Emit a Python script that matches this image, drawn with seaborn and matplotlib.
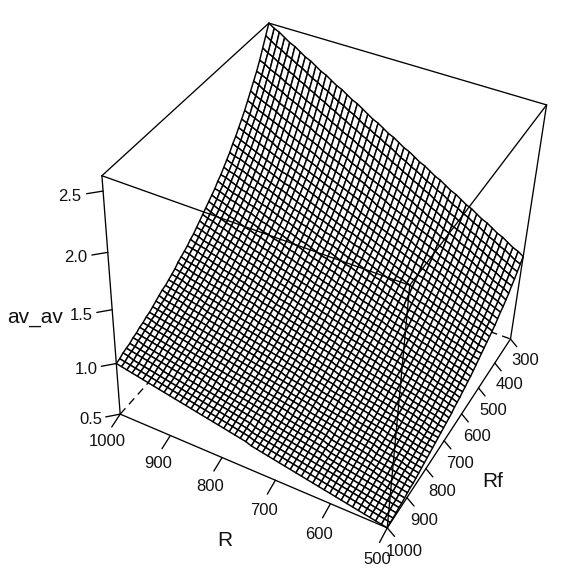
import numpy as np
import pandas as pd
import seaborn as sns
import matplotlib
matplotlib.use('Agg')
import matplotlib.pyplot as plt
from matplotlib.collections import PolyCollection

r_vals = [500, 510.2, 520.4, 530.6, 540.8, 551.0, 561.2, 571.4, 581.6, 591.8, 602.0, 612.2, 622.4, 632.7, 642.9, 653.1, 663.3,
          673.5, 683.7, 693.9, 704.1, 714.3, 724.5, 734.7, 744.9, 755.1, 765.3, 775.5, 785.7, 795.9, 806.1, 816.3, 826.5,
          836.7, 846.9, 857.1, 867.3, 877.6, 887.8, 898.0, 908.2, 918.4, 928.6, 938.8, 949.0, 959.2, 969.4, 979.6, 989.8, 1000]
rf_vals = [300, 314.3, 328.6, 342.9, 357.1, 371.4, 385.7, 400, 414.3, 428.6, 442.9, 457.1, 471.4, 485.7, 500, 514.3, 528.6,
           542.9, 557.1, 571.4, 585.7, 600, 614.3, 628.6, 642.9, 657.1, 671.4, 685.7, 700, 714.3, 728.6, 742.9, 757.1,
           771.4, 785.7, 800, 814.3, 828.6, 842.9, 857.1, 871.4, 885.7, 900, 914.3, 928.6, 942.9, 957.1, 971.4, 985.7, 1000]
# rows follow rf_vals, columns follow r_vals
gain = [
    [1.31,1.34,1.36,1.39,1.42,1.44,1.47,1.50,1.52,1.55,1.58,1.60,1.63,1.66,1.68,1.71,1.74,1.76,1.79,1.82,1.84,1.87,1.90,1.92,1.95,1.98,2.00,2.03,2.06,2.08,2.11,2.14,2.17,2.19,2.22,2.25,2.27,2.30,2.33,2.35,2.38,2.41,2.43,2.46,2.49,2.51,2.54,2.57,2.59,2.62],
    [1.27,1.29,1.32,1.35,1.37,1.40,1.42,1.45,1.48,1.50,1.53,1.55,1.58,1.60,1.63,1.66,1.68,1.71,1.73,1.76,1.79,1.81,1.84,1.86,1.89,1.92,1.94,1.97,1.99,2.02,2.04,2.07,2.10,2.12,2.15,2.17,2.20,2.23,2.25,2.28,2.30,2.33,2.36,2.38,2.41,2.43,2.46,2.48,2.51,2.54],
    [1.23,1.25,1.28,1.30,1.33,1.35,1.38,1.40,1.43,1.45,1.48,1.50,1.53,1.55,1.58,1.60,1.63,1.66,1.68,1.71,1.73,1.76,1.78,1.81,1.83,1.86,1.88,1.91,1.93,1.96,1.98,2.01,2.03,2.06,2.08,2.11,2.13,2.16,2.18,2.21,2.23,2.26,2.28,2.31,2.33,2.36,2.38,2.41,2.43,2.46],
    [1.19,1.22,1.24,1.27,1.29,1.31,1.34,1.36,1.39,1.41,1.44,1.46,1.48,1.51,1.53,1.56,1.58,1.61,1.63,1.65,1.68,1.70,1.73,1.75,1.78,1.80,1.82,1.85,1.87,1.90,1.92,1.95,1.97,1.99,2.02,2.04,2.07,2.09,2.12,2.14,2.16,2.19,2.21,2.24,2.26,2.29,2.31,2.33,2.36,2.38],
    [1.16,1.18,1.20,1.23,1.25,1.27,1.30,1.32,1.35,1.37,1.39,1.42,1.44,1.46,1.49,1.51,1.53,1.56,1.58,1.61,1.63,1.65,1.68,1.70,1.72,1.75,1.77,1.79,1.82,1.84,1.87,1.89,1.91,1.94,1.96,1.98,2.01,2.03,2.05,2.08,2.10,2.13,2.15,2.17,2.20,2.22,2.24,2.27,2.29,2.31],
    [1.12,1.15,1.17,1.19,1.22,1.24,1.26,1.29,1.31,1.33,1.35,1.38,1.40,1.42,1.45,1.47,1.49,1.51,1.54,1.56,1.58,1.61,1.63,1.65,1.68,1.70,1.72,1.74,1.77,1.79,1.81,1.84,1.86,1.88,1.90,1.93,1.95,1.97,2.00,2.02,2.04,2.07,2.09,2.11,2.13,2.16,2.18,2.20,2.23,2.25],
    [1.09,1.12,1.14,1.16,1.18,1.21,1.23,1.25,1.27,1.29,1.32,1.34,1.36,1.38,1.41,1.43,1.45,1.47,1.50,1.52,1.54,1.56,1.58,1.61,1.63,1.65,1.67,1.70,1.72,1.74,1.76,1.79,1.81,1.83,1.85,1.87,1.90,1.92,1.94,1.96,1.99,2.01,2.03,2.05,2.08,2.10,2.12,2.14,2.16,2.19],
    [1.06,1.09,1.11,1.13,1.15,1.17,1.19,1.22,1.24,1.26,1.28,1.30,1.32,1.35,1.37,1.39,1.41,1.43,1.45,1.48,1.50,1.52,1.54,1.56,1.58,1.61,1.63,1.65,1.67,1.69,1.72,1.74,1.76,1.78,1.80,1.82,1.85,1.87,1.89,1.91,1.93,1.95,1.98,2.00,2.02,2.04,2.06,2.08,2.11,2.13],
    [1.04,1.06,1.08,1.10,1.12,1.14,1.16,1.18,1.21,1.23,1.25,1.27,1.29,1.31,1.33,1.35,1.37,1.40,1.42,1.44,1.46,1.48,1.50,1.52,1.54,1.56,1.59,1.61,1.63,1.65,1.67,1.69,1.71,1.73,1.75,1.78,1.80,1.82,1.84,1.86,1.88,1.90,1.92,1.94,1.97,1.99,2.01,2.03,2.05,2.07],
    [1.01,1.03,1.05,1.07,1.09,1.11,1.13,1.15,1.17,1.19,1.22,1.24,1.26,1.28,1.30,1.32,1.34,1.36,1.38,1.40,1.42,1.44,1.46,1.48,1.50,1.52,1.54,1.57,1.59,1.61,1.63,1.65,1.67,1.69,1.71,1.73,1.75,1.77,1.79,1.81,1.83,1.85,1.87,1.90,1.92,1.94,1.96,1.98,2.00,2.02],
    [0.98,1.00,1.02,1.04,1.06,1.08,1.10,1.13,1.15,1.17,1.19,1.21,1.23,1.25,1.27,1.29,1.31,1.33,1.35,1.37,1.39,1.41,1.43,1.45,1.47,1.49,1.51,1.53,1.55,1.57,1.59,1.61,1.63,1.65,1.67,1.69,1.71,1.73,1.75,1.77,1.79,1.81,1.83,1.85,1.87,1.89,1.91,1.93,1.95,1.97],
    [0.96,0.98,1.00,1.02,1.04,1.06,1.08,1.10,1.12,1.14,1.16,1.18,1.20,1.22,1.23,1.25,1.27,1.29,1.31,1.33,1.35,1.37,1.39,1.41,1.43,1.45,1.47,1.49,1.51,1.53,1.55,1.57,1.59,1.61,1.63,1.65,1.67,1.69,1.71,1.73,1.74,1.76,1.78,1.80,1.82,1.84,1.86,1.88,1.90,1.92],
    [0.94,0.96,0.98,0.99,1.01,1.03,1.05,1.07,1.09,1.11,1.13,1.15,1.17,1.19,1.21,1.22,1.24,1.26,1.28,1.30,1.32,1.34,1.36,1.38,1.40,1.42,1.44,1.45,1.47,1.49,1.51,1.53,1.55,1.57,1.59,1.61,1.63,1.65,1.67,1.68,1.70,1.72,1.74,1.76,1.78,1.80,1.82,1.84,1.86,1.88],
    [0.92,0.94,0.95,0.97,0.99,1.01,1.03,1.05,1.07,1.08,1.10,1.12,1.14,1.16,1.18,1.20,1.22,1.23,1.25,1.27,1.29,1.31,1.33,1.35,1.37,1.38,1.40,1.42,1.44,1.46,1.48,1.50,1.51,1.53,1.55,1.57,1.59,1.61,1.63,1.65,1.66,1.68,1.70,1.72,1.74,1.76,1.78,1.80,1.81,1.83],
    [0.90,0.91,0.93,0.95,0.97,0.99,1.01,1.02,1.04,1.06,1.08,1.10,1.11,1.13,1.15,1.17,1.19,1.21,1.22,1.24,1.26,1.28,1.30,1.32,1.33,1.35,1.37,1.39,1.41,1.43,1.44,1.46,1.48,1.50,1.52,1.54,1.55,1.57,1.59,1.61,1.63,1.65,1.66,1.68,1.70,1.72,1.74,1.75,1.77,1.79],
    [0.88,0.89,0.91,0.93,0.95,0.97,0.98,1.00,1.02,1.04,1.05,1.07,1.09,1.11,1.13,1.14,1.16,1.18,1.20,1.22,1.23,1.25,1.27,1.29,1.31,1.32,1.34,1.36,1.38,1.39,1.41,1.43,1.45,1.47,1.48,1.50,1.52,1.54,1.56,1.57,1.59,1.61,1.63,1.65,1.66,1.68,1.70,1.72,1.73,1.75],
    [0.86,0.87,0.89,0.91,0.93,0.94,0.96,0.98,1.00,1.01,1.03,1.05,1.07,1.08,1.10,1.12,1.14,1.15,1.17,1.19,1.21,1.22,1.24,1.26,1.28,1.29,1.31,1.33,1.35,1.36,1.38,1.40,1.42,1.43,1.45,1.47,1.49,1.50,1.52,1.54,1.56,1.57,1.59,1.61,1.63,1.64,1.66,1.68,1.70,1.71],
    [0.84,0.86,0.87,0.89,0.91,0.92,0.94,0.96,0.98,0.99,1.01,1.03,1.04,1.06,1.08,1.09,1.11,1.13,1.15,1.16,1.18,1.20,1.21,1.23,1.25,1.27,1.28,1.30,1.32,1.33,1.35,1.37,1.39,1.40,1.42,1.44,1.45,1.47,1.49,1.50,1.52,1.54,1.56,1.57,1.59,1.61,1.62,1.64,1.66,1.68],
    [0.82,0.84,0.86,0.87,0.89,0.91,0.92,0.94,0.96,0.97,0.99,1.01,1.02,1.04,1.06,1.07,1.09,1.11,1.12,1.14,1.16,1.17,1.19,1.21,1.22,1.24,1.26,1.27,1.29,1.31,1.32,1.34,1.36,1.38,1.39,1.41,1.43,1.44,1.46,1.48,1.49,1.51,1.53,1.54,1.56,1.58,1.59,1.61,1.63,1.64],
    [0.80,0.82,0.84,0.85,0.87,0.89,0.90,0.92,0.94,0.95,0.97,0.98,1.00,1.02,1.03,1.05,1.07,1.08,1.10,1.12,1.13,1.15,1.17,1.18,1.20,1.21,1.23,1.25,1.26,1.28,1.30,1.31,1.33,1.35,1.36,1.38,1.40,1.41,1.43,1.44,1.46,1.48,1.49,1.51,1.53,1.54,1.56,1.58,1.59,1.61],
    [0.79,0.80,0.82,0.84,0.85,0.87,0.89,0.90,0.92,0.93,0.95,0.97,0.98,1.00,1.01,1.03,1.05,1.06,1.08,1.09,1.11,1.13,1.14,1.16,1.17,1.19,1.21,1.22,1.24,1.25,1.27,1.29,1.30,1.32,1.33,1.35,1.37,1.38,1.40,1.42,1.43,1.45,1.46,1.48,1.50,1.51,1.53,1.54,1.56,1.58],
    [0.77,0.79,0.80,0.82,0.84,0.85,0.87,0.88,0.90,0.91,0.93,0.95,0.96,0.98,0.99,1.01,1.03,1.04,1.06,1.07,1.09,1.10,1.12,1.14,1.15,1.17,1.18,1.20,1.21,1.23,1.25,1.26,1.28,1.29,1.31,1.32,1.34,1.36,1.37,1.39,1.40,1.42,1.44,1.45,1.47,1.48,1.50,1.51,1.53,1.55],
    [0.76,0.77,0.79,0.80,0.82,0.84,0.85,0.87,0.88,0.90,0.91,0.93,0.94,0.96,0.97,0.99,1.01,1.02,1.04,1.05,1.07,1.08,1.10,1.11,1.13,1.15,1.16,1.18,1.19,1.21,1.22,1.24,1.25,1.27,1.28,1.30,1.32,1.33,1.35,1.36,1.38,1.39,1.41,1.42,1.44,1.46,1.47,1.49,1.50,1.52],
    [0.74,0.76,0.77,0.79,0.80,0.82,0.84,0.85,0.87,0.88,0.90,0.91,0.93,0.94,0.96,0.97,0.99,1.00,1.02,1.03,1.05,1.06,1.08,1.09,1.11,1.12,1.14,1.15,1.17,1.18,1.20,1.21,1.23,1.24,1.26,1.28,1.29,1.31,1.32,1.34,1.35,1.37,1.38,1.40,1.41,1.43,1.44,1.46,1.47,1.49],
    [0.73,0.75,0.76,0.78,0.79,0.81,0.82,0.84,0.85,0.87,0.88,0.90,0.91,0.92,0.94,0.95,0.97,0.98,1.00,1.01,1.03,1.04,1.06,1.07,1.09,1.10,1.12,1.13,1.15,1.16,1.18,1.19,1.21,1.22,1.24,1.25,1.27,1.28,1.30,1.31,1.33,1.34,1.36,1.37,1.39,1.40,1.42,1.43,1.45,1.46],
    [0.72,0.73,0.75,0.76,0.78,0.79,0.80,0.82,0.83,0.85,0.86,0.88,0.89,0.91,0.92,0.94,0.95,0.97,0.98,0.99,1.01,1.02,1.04,1.05,1.07,1.08,1.10,1.11,1.13,1.14,1.16,1.17,1.19,1.20,1.21,1.23,1.24,1.26,1.27,1.29,1.30,1.32,1.33,1.35,1.36,1.38,1.39,1.40,1.42,1.43],
    [0.70,0.72,0.73,0.75,0.76,0.78,0.79,0.80,0.82,0.83,0.85,0.86,0.88,0.89,0.91,0.92,0.93,0.95,0.96,0.98,0.99,1.01,1.02,1.03,1.05,1.06,1.08,1.09,1.11,1.12,1.14,1.15,1.16,1.18,1.19,1.21,1.22,1.24,1.25,1.26,1.28,1.29,1.31,1.32,1.34,1.35,1.37,1.38,1.39,1.41],
    [0.69,0.71,0.72,0.73,0.75,0.76,0.78,0.79,0.80,0.82,0.83,0.85,0.86,0.88,0.89,0.90,0.92,0.93,0.95,0.96,0.97,0.99,1.00,1.02,1.03,1.05,1.06,1.07,1.09,1.10,1.12,1.13,1.14,1.16,1.17,1.19,1.20,1.21,1.23,1.24,1.26,1.27,1.28,1.30,1.31,1.33,1.34,1.36,1.37,1.38],
    [0.68,0.69,0.71,0.72,0.74,0.75,0.76,0.78,0.79,0.81,0.82,0.83,0.85,0.86,0.87,0.89,0.90,0.92,0.93,0.94,0.96,0.97,0.99,1.00,1.01,1.03,1.04,1.06,1.07,1.08,1.10,1.11,1.13,1.14,1.15,1.17,1.18,1.19,1.21,1.22,1.24,1.25,1.26,1.28,1.29,1.31,1.32,1.33,1.35,1.36],
    [0.67,0.68,0.70,0.71,0.72,0.74,0.75,0.76,0.78,0.79,0.81,0.82,0.83,0.85,0.86,0.87,0.89,0.90,0.91,0.93,0.94,0.96,0.97,0.98,1.00,1.01,1.02,1.04,1.05,1.07,1.08,1.09,1.11,1.12,1.13,1.15,1.16,1.17,1.19,1.20,1.22,1.23,1.24,1.26,1.27,1.28,1.30,1.31,1.32,1.34],
    [0.66,0.67,0.68,0.70,0.71,0.73,0.74,0.75,0.77,0.78,0.79,0.81,0.82,0.83,0.85,0.86,0.87,0.89,0.90,0.91,0.93,0.94,0.95,0.97,0.98,0.99,1.01,1.02,1.03,1.05,1.06,1.07,1.09,1.10,1.11,1.13,1.14,1.15,1.17,1.18,1.19,1.21,1.22,1.23,1.25,1.26,1.27,1.29,1.30,1.32],
    [0.65,0.66,0.67,0.69,0.70,0.71,0.73,0.74,0.75,0.77,0.78,0.79,0.81,0.82,0.83,0.85,0.86,0.87,0.88,0.90,0.91,0.92,0.94,0.95,0.96,0.98,0.99,1.00,1.02,1.03,1.04,1.06,1.07,1.08,1.10,1.11,1.12,1.13,1.15,1.16,1.17,1.19,1.20,1.21,1.23,1.24,1.25,1.27,1.28,1.29],
    [0.64,0.65,0.66,0.68,0.69,0.70,0.71,0.73,0.74,0.75,0.77,0.78,0.79,0.80,0.82,0.83,0.84,0.86,0.87,0.88,0.90,0.91,0.92,0.93,0.95,0.96,0.97,0.99,1.00,1.01,1.03,1.04,1.05,1.06,1.08,1.09,1.10,1.12,1.13,1.14,1.16,1.17,1.18,1.19,1.21,1.22,1.23,1.25,1.26,1.27],
    [0.63,0.64,0.65,0.67,0.68,0.69,0.70,0.72,0.73,0.74,0.75,0.77,0.78,0.79,0.81,0.82,0.83,0.84,0.86,0.87,0.88,0.90,0.91,0.92,0.93,0.95,0.96,0.97,0.98,1.00,1.01,1.02,1.04,1.05,1.06,1.07,1.09,1.10,1.11,1.13,1.14,1.15,1.16,1.18,1.19,1.20,1.21,1.23,1.24,1.25],
    [0.62,0.63,0.64,0.65,0.67,0.68,0.69,0.71,0.72,0.73,0.74,0.76,0.77,0.78,0.79,0.81,0.82,0.83,0.84,0.86,0.87,0.88,0.89,0.91,0.92,0.93,0.94,0.96,0.97,0.98,0.99,1.01,1.02,1.03,1.04,1.06,1.07,1.08,1.10,1.11,1.12,1.13,1.15,1.16,1.17,1.18,1.20,1.21,1.22,1.23],
    [0.61,0.62,0.63,0.65,0.66,0.67,0.68,0.69,0.71,0.72,0.73,0.74,0.76,0.77,0.78,0.79,0.81,0.82,0.83,0.84,0.86,0.87,0.88,0.89,0.91,0.92,0.93,0.94,0.95,0.97,0.98,0.99,1.00,1.02,1.03,1.04,1.05,1.07,1.08,1.09,1.10,1.12,1.13,1.14,1.15,1.17,1.18,1.19,1.20,1.22],
    [0.60,0.61,0.62,0.63,0.65,0.66,0.67,0.68,0.70,0.71,0.72,0.73,0.74,0.76,0.77,0.78,0.79,0.81,0.82,0.83,0.84,0.85,0.87,0.88,0.89,0.90,0.92,0.93,0.94,0.95,0.96,0.98,0.99,1.00,1.01,1.03,1.04,1.05,1.06,1.07,1.09,1.10,1.11,1.12,1.13,1.15,1.16,1.17,1.18,1.20],
    [0.59,0.60,0.61,0.63,0.64,0.65,0.66,0.67,0.69,0.70,0.71,0.72,0.73,0.75,0.76,0.77,0.78,0.79,0.80,0.82,0.83,0.84,0.85,0.87,0.88,0.89,0.90,0.91,0.93,0.94,0.95,0.96,0.97,0.99,1.00,1.01,1.02,1.03,1.05,1.06,1.07,1.08,1.09,1.11,1.12,1.13,1.14,1.15,1.17,1.18],
    [0.58,0.59,0.60,0.62,0.63,0.64,0.65,0.66,0.68,0.69,0.70,0.71,0.72,0.73,0.75,0.76,0.77,0.78,0.79,0.81,0.82,0.83,0.84,0.85,0.87,0.88,0.89,0.90,0.91,0.92,0.94,0.95,0.96,0.97,0.98,1.00,1.01,1.02,1.03,1.04,1.05,1.07,1.08,1.09,1.10,1.11,1.13,1.14,1.15,1.16],
    [0.57,0.58,0.60,0.61,0.62,0.63,0.64,0.65,0.67,0.68,0.69,0.70,0.71,0.72,0.74,0.75,0.76,0.77,0.78,0.79,0.81,0.82,0.83,0.84,0.85,0.86,0.88,0.89,0.90,0.91,0.92,0.93,0.95,0.96,0.97,0.98,0.99,1.00,1.02,1.03,1.04,1.05,1.06,1.07,1.09,1.10,1.11,1.12,1.13,1.14],
    [0.56,0.58,0.59,0.60,0.61,0.62,0.63,0.64,0.66,0.67,0.68,0.69,0.70,0.71,0.72,0.74,0.75,0.76,0.77,0.78,0.79,0.81,0.82,0.83,0.84,0.85,0.86,0.87,0.89,0.90,0.91,0.92,0.93,0.94,0.96,0.97,0.98,0.99,1.00,1.01,1.02,1.04,1.05,1.06,1.07,1.08,1.09,1.10,1.12,1.13],
    [0.56,0.57,0.58,0.59,0.60,0.61,0.62,0.64,0.65,0.66,0.67,0.68,0.69,0.70,0.71,0.73,0.74,0.75,0.76,0.77,0.78,0.79,0.81,0.82,0.83,0.84,0.85,0.86,0.87,0.89,0.90,0.91,0.92,0.93,0.94,0.95,0.96,0.98,0.99,1.00,1.01,1.02,1.03,1.04,1.06,1.07,1.08,1.09,1.10,1.11],
    [0.55,0.56,0.57,0.58,0.59,0.60,0.62,0.63,0.64,0.65,0.66,0.67,0.68,0.69,0.70,0.72,0.73,0.74,0.75,0.76,0.77,0.78,0.79,0.81,0.82,0.83,0.84,0.85,0.86,0.87,0.88,0.90,0.91,0.92,0.93,0.94,0.95,0.96,0.97,0.98,1.00,1.01,1.02,1.03,1.04,1.05,1.06,1.07,1.09,1.10],
    [0.54,0.55,0.56,0.57,0.59,0.60,0.61,0.62,0.63,0.64,0.65,0.66,0.67,0.68,0.70,0.71,0.72,0.73,0.74,0.75,0.76,0.77,0.78,0.79,0.81,0.82,0.83,0.84,0.85,0.86,0.87,0.88,0.89,0.90,0.92,0.93,0.94,0.95,0.96,0.97,0.98,0.99,1.00,1.02,1.03,1.04,1.05,1.06,1.07,1.08],
    [0.53,0.54,0.56,0.57,0.58,0.59,0.60,0.61,0.62,0.63,0.64,0.65,0.66,0.67,0.69,0.70,0.71,0.72,0.73,0.74,0.75,0.76,0.77,0.78,0.80,0.81,0.82,0.83,0.84,0.85,0.86,0.87,0.88,0.89,0.90,0.91,0.93,0.94,0.95,0.96,0.97,0.98,0.99,1.00,1.01,1.02,1.03,1.04,1.06,1.07],
    [0.53,0.54,0.55,0.56,0.57,0.58,0.59,0.60,0.61,0.62,0.63,0.64,0.66,0.67,0.68,0.69,0.70,0.71,0.72,0.73,0.74,0.75,0.76,0.77,0.78,0.80,0.81,0.82,0.83,0.84,0.85,0.86,0.87,0.88,0.89,0.90,0.91,0.92,0.93,0.95,0.96,0.97,0.98,0.99,1.00,1.01,1.02,1.03,1.04,1.05],
    [0.52,0.53,0.54,0.55,0.56,0.57,0.58,0.59,0.60,0.61,0.63,0.64,0.65,0.66,0.67,0.68,0.69,0.70,0.71,0.72,0.73,0.74,0.75,0.76,0.77,0.78,0.80,0.81,0.82,0.83,0.84,0.85,0.86,0.87,0.88,0.89,0.90,0.91,0.92,0.93,0.94,0.95,0.96,0.98,0.99,1.00,1.01,1.02,1.03,1.04],
    [0.51,0.52,0.53,0.54,0.55,0.57,0.58,0.59,0.60,0.61,0.62,0.63,0.64,0.65,0.66,0.67,0.68,0.69,0.70,0.71,0.72,0.73,0.74,0.75,0.76,0.77,0.79,0.80,0.81,0.82,0.83,0.84,0.85,0.86,0.87,0.88,0.89,0.90,0.91,0.92,0.93,0.94,0.95,0.96,0.97,0.98,0.99,1.00,1.02,1.03],
    [0.51,0.52,0.53,0.54,0.55,0.56,0.57,0.58,0.59,0.60,0.61,0.62,0.63,0.64,0.65,0.66,0.67,0.68,0.69,0.70,0.71,0.72,0.73,0.74,0.75,0.77,0.78,0.79,0.80,0.81,0.82,0.83,0.84,0.85,0.86,0.87,0.88,0.89,0.90,0.91,0.92,0.93,0.94,0.95,0.96,0.97,0.98,0.99,1.00,1.01],
    [0.50,0.51,0.52,0.53,0.54,0.55,0.56,0.57,0.58,0.59,0.60,0.61,0.62,0.63,0.64,0.65,0.66,0.67,0.68,0.69,0.70,0.71,0.72,0.73,0.74,0.76,0.77,0.78,0.79,0.80,0.81,0.82,0.83,0.84,0.85,0.86,0.87,0.88,0.89,0.90,0.91,0.92,0.93,0.94,0.95,0.96,0.97,0.98,0.99,1.00],
]
r_ticks = [500, 600, 700, 800, 900, 1000]
rf_ticks = [300, 400, 500, 600, 700, 800, 900, 1000]
z_ticks = [0.5, 1.0, 1.5, 2.0, 2.5]

# view matrix, same idea as the pmat that R persp returns (cube -1..1 to picture)
VIEW = np.array([
    [-123.401824, -93.862449, -16.172484, 325.643465],
    [-38.520045, 67.471459, -135.083307, 265.129726],
    [0.038684, -0.068140, -0.065764, 1.0],
])
LW = 0.95


def project(x, y, z):
    x, y, z = np.broadcast_arrays(np.asarray(x, float), np.asarray(y, float), np.asarray(z, float))
    q = VIEW @ np.stack([x.ravel(), y.ravel(), z.ravel(), np.ones(x.size)])
    return (q[0] / q[2]).reshape(x.shape), (q[1] / q[2]).reshape(x.shape), q[2].reshape(x.shape)


def scale(v, lo, hi):
    return 2 * (np.asarray(v, float) - lo) / (hi - lo) - 1


def draw_lines(segments, **kw):
    rows = []
    for k, (a, b) in enumerate(segments):
        pa = project(*a)
        pb = project(*b)
        rows += [(k, float(pa[0]), float(pa[1])), (k, float(pb[0]), float(pb[1]))]
    df = pd.DataFrame(rows, columns=['id', 'x', 'y'])
    sns.lineplot(data=df, x='x', y='y', units='id', estimator=None, sort=False,
                 color='black', legend=False, ax=ax, **kw)


sns.set_theme(style='white')
plt.rcParams['font.family'] = ['Liberation Sans', 'DejaVu Sans']

fig = plt.figure(figsize=(5.82, 5.84), dpi=100)
ax = fig.add_axes([0, 0, 1, 1])

z_all = np.array(gain)
zlo, zhi = z_all.min(), z_all.max()
xs, ys = np.meshgrid(scale(r_vals, 500, 1000), scale(rf_vals, 300, 1000))
px, py, pw = project(xs, ys, scale(z_all, zlo, zhi))

# box corners in the cube
A, B, C, D = (1, 1, -1), (-1, 1, -1), (-1, -1, -1), (1, -1, -1)
A2, B2, C2, D2 = (1, 1, 1), (-1, 1, 1), (-1, -1, 1), (1, -1, 1)

# back of the box goes under the surface
draw_lines([(A2, D2), (D2, C2)], lw=LW, zorder=1)
draw_lines([(A, D), (D, C), (D, D2)], lw=LW, linestyle=(0, (6, 4)), zorder=1)

cells = []
depth = []
for j in range(px.shape[0] - 1):
    for i in range(px.shape[1] - 1):
        cells.append([(px[j, i], py[j, i]), (px[j, i + 1], py[j, i + 1]),
                      (px[j + 1, i + 1], py[j + 1, i + 1]), (px[j + 1, i], py[j + 1, i])])
        depth.append(pw[j:j + 2, i:i + 2].mean())
order = np.argsort(depth)[::-1]
ax.add_collection(PolyCollection([cells[k] for k in order], facecolors='white',
                                 edgecolors='black', linewidths=1.05, zorder=2))

# front of the box goes over it
draw_lines([(A, B), (B, C), (A, A2), (B, B2), (C, C2), (A2, B2), (B2, C2)], lw=LW, zorder=3)

# ticks lean a little downwards as well as out from the box
TICK_R, TICK_RF, TICK_Z, TICK_DOWN_R, TICK_DOWN_RF = 0.105, 0.054, 0.07, 0.03, 0.05
ticks = []
labels = []
for v in r_ticks:
    xn = float(scale(v, 500, 1000))
    ticks.append(((xn, 1, -1), (xn, 1 + TICK_R, -1 - TICK_DOWN_R)))
    labels.append((str(v), (xn - 0.035, 1 + 2 * TICK_R, -1 - 2 * TICK_DOWN_R)))
for v in rf_ticks:
    yn = float(scale(v, 300, 1000))
    ticks.append(((-1, yn, -1), (-1 - TICK_RF, yn, -1 - TICK_DOWN_RF)))
    labels.append((str(v), (-1.13 , yn, -1 - 2 * TICK_DOWN_RF - 0.05)))
for v in z_ticks:
    zn = float(scale(v, zlo, zhi))
    ticks.append(((1, 1, zn), (1 + TICK_Z, 1 + TICK_Z, zn)))
    labels.append((str(v), (1 + 2 * TICK_Z, 1 + 2 * TICK_Z, zn)))
draw_lines(ticks, lw=LW, zorder=4)
for txt, pos in labels:
    p = project(*pos)
    ax.text(float(p[0]), float(p[1]), txt, ha='center', va='center', fontsize=12, color='#111111')

for txt, pos in [('R', (-0.17, 1.59, -1)), ('Rf', (-1.42, 0.32, -1)), ('av_av', (1.345, 1.345, -0.01))]:
    p = project(*pos)
    ax.text(float(p[0]), float(p[1]), txt, ha='center', va='center', fontsize=15, color='#111111')

ax.set_xlim(0, 582)
ax.set_ylim(584, 0)
ax.set_xlabel('')
ax.set_ylabel('')
ax.axis('off')
fig.savefig('out.png', dpi=100)
